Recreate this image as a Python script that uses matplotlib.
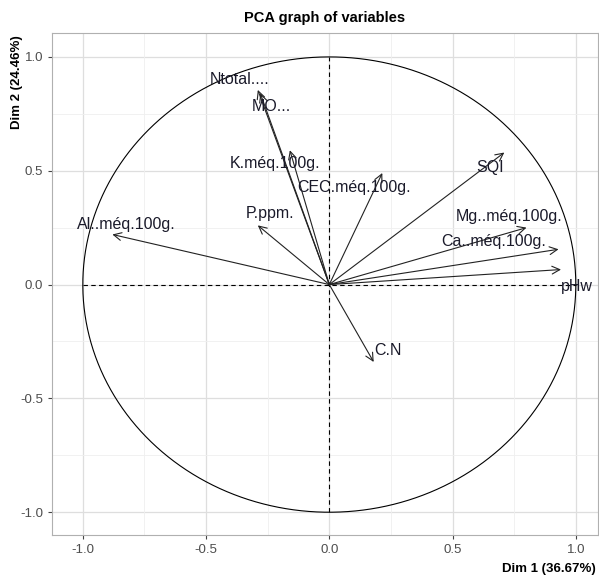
import numpy as np
import matplotlib.pyplot as plt

plt.rcParams['font.family'] = ['Liberation Sans', 'DejaVu Sans']
plt.rcParams['axes.unicode_minus'] = False

variables = ['Ntotal....', 'MO...', 'K.méq.100g.', 'CEC.méq.100g.', 'SQI',
             'Mg..méq.100g.', 'Ca..méq.100g.', 'pHw', 'Al..méq.100g.',
             'P.ppm.', 'C.N']
dim1 = [-0.29, -0.28, -0.16, 0.215, 0.71, 0.80, 0.93, 0.94, -0.88, -0.29, 0.18]
dim2 = [0.855, 0.84, 0.59, 0.49, 0.58, 0.25, 0.155, 0.066, 0.22, 0.26, -0.34]
inertia = [36.67, 24.46]

# label offsets from arrow tips, in pixels
label_off = [(-18, 10), (11, -13), (-15, -13), (-28, -14), (-14, -15),
             (-17, 11), (-65, 8), (16, -17), (14, 10), (12, 12), (14, 11)]

fig = plt.figure(figsize=(5.99, 5.76), dpi=100)
ax = fig.add_axes([0.0868, 0.0712, 0.9115, 0.8715])

# grid
for v in [-1.0, -0.5, 0.0, 0.5, 1.0]:
    ax.axvline(v, color='#dedede', lw=0.9, zorder=0)
    ax.axhline(v, color='#dedede', lw=0.9, zorder=0)
for v in [-0.75, -0.25, 0.25, 0.75]:
    ax.axvline(v, color='#efefef', lw=0.6, zorder=0)
    ax.axhline(v, color='#efefef', lw=0.6, zorder=0)

t = np.linspace(0, 2 * np.pi, 400)
ax.plot(np.cos(t), np.sin(t), color='black', lw=0.8, zorder=1)
ax.plot([-1, 1], [0, 0], color='black', lw=0.8, ls=(0, (4, 3)), zorder=1)
ax.plot([0, 0], [-1, 1], color='black', lw=0.8, ls=(0, (4, 3)), zorder=1)

for name, x, y, off in zip(variables, dim1, dim2, label_off):
    ax.annotate('', xy=(x, y), xytext=(0, 0),
                arrowprops=dict(arrowstyle='->', color='#222222', lw=0.8,
                                shrinkA=0, shrinkB=0, mutation_scale=14))
    ax.annotate(name, xy=(x, y), xytext=off, textcoords='offset pixels',
                ha='center', va='center', fontsize=11.5, color='#1a1a2a')

ax.set_xlim(-1.125, 1.09)
ax.set_ylim(-1.1, 1.105)
ax.set_xticks([-1.0, -0.5, 0.0, 0.5, 1.0])
ax.set_yticks([-1.0, -0.5, 0.0, 0.5, 1.0])
ax.tick_params(colors='#444444', labelcolor='#4d4d4d', labelsize=9.5, length=3)
for s in ax.spines.values():
    s.set_color('#b0b0b0')

ax.set_title('PCA graph of variables', fontweight='bold', fontsize=10.5, pad=8)
ax.set_xlabel('Dim 1 (%.2f%%)' % inertia[0], fontweight='bold', fontsize=9.5)
ax.xaxis.set_label_coords(0.995, -0.055)
ax.xaxis.label.set_ha('right')
ax.set_ylabel('Dim 2 (%.2f%%)' % inertia[1], fontweight='bold', fontsize=9.5)
ax.yaxis.set_label_coords(-0.075, 0.995)
ax.yaxis.label.set_va('top')
ax.yaxis.label.set_ha('right')

fig.savefig('out.png', dpi=100)
